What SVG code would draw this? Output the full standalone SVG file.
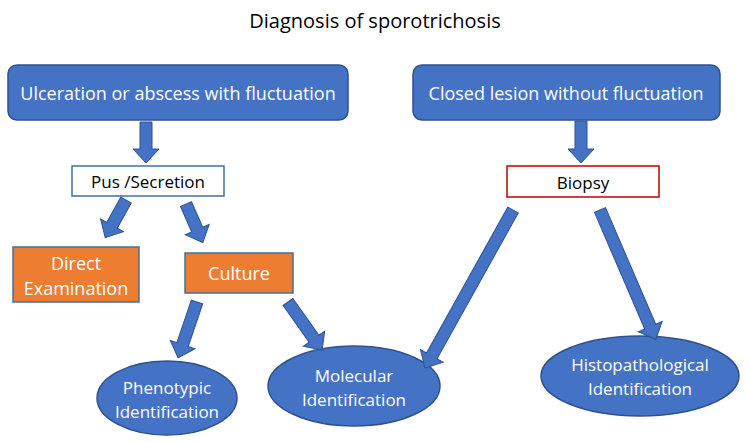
<svg xmlns="http://www.w3.org/2000/svg" width="749" height="443" viewBox="0 0 749 443">
<style>
text{font-family:"Open Sans","Liberation Sans",sans-serif;text-anchor:middle;dominant-baseline:central}
.b{fill:#4472C4;stroke:#2F528F;stroke-width:1.5}
.o{fill:#ED7D31;stroke:#41719C;stroke-width:1.5}
.w{fill:#fff}
.a{fill:#4472C4;stroke:#2F528F;stroke-width:1}
</style>
<rect width="749" height="443" fill="#fff"/>
<text x="375" y="20" font-size="20" fill="#000">Diagnosis of sporotrichosis</text>
<g id="n1"><rect class="b" x="8" y="65" width="340" height="55" rx="9"/><text class="w" x="178" y="93" font-size="18">Ulceration or abscess with fluctuation</text></g>
<g id="n2"><rect class="b" x="413" y="65" width="307" height="55" rx="9"/><text class="w" x="566" y="93" font-size="18">Closed lesion without fluctuation</text></g>
<g id="n3"><rect x="72" y="166" width="152" height="30" fill="#fff" stroke="#41719C" stroke-width="1.5"/><text x="148" y="181" font-size="17">Pus /Secretion</text></g>
<g id="n4"><rect x="507" y="166" width="152" height="31" fill="#fff" stroke="#C00000" stroke-width="1.5"/><text x="583" y="182" font-size="17">Biopsy</text></g>
<g id="n5"><rect class="o" x="13" y="247" width="126" height="55"/><text class="w" x="76" y="263" font-size="18">Direct</text><text class="w" x="76" y="288" font-size="18">Examination</text></g>
<g id="n6"><rect class="o" x="185" y="253" width="108" height="40"/><text class="w" x="239" y="273" font-size="18">Culture</text></g>
<g id="n7"><ellipse class="b" cx="167" cy="398" rx="70" ry="37"/><text class="w" x="167" y="387" font-size="17">Phenotypic</text><text class="w" x="167" y="411" font-size="17">Identification</text></g>
<g id="n8"><ellipse class="b" cx="354" cy="386" rx="86" ry="40"/><text class="w" x="354" y="375" font-size="17">Molecular</text><text class="w" x="354" y="399" font-size="17">Identification</text></g>
<g id="n9"><ellipse class="b" cx="640" cy="376" rx="99" ry="40"/><text class="w" x="640" y="364" font-size="17">Histopathological</text><text class="w" x="640" y="388" font-size="17">Identification</text></g>
<g id="connectors">
<path class="a" transform="translate(146,122) rotate(90)" d="M0,-6 L27,-6 L27,-13 L41,0 L27,13 L27,6 L0,6 Z"/>
<path class="a" transform="translate(581,121) rotate(90)" d="M0,-6 L28,-6 L28,-13 L42,0 L28,13 L28,6 L0,6 Z"/>
<path class="a" transform="translate(126,200) rotate(118.9)" d="M0,-6 L29,-6 L29,-13 L43,0 L29,13 L29,6 L0,6 Z"/>
<path class="a" transform="translate(186,204) rotate(66.4)" d="M0,-6 L28,-6 L28,-13 L42,0 L28,13 L28,6 L0,6 Z"/>
<path class="a" transform="translate(197,302) rotate(108.7)" d="M0,-6 L45,-6 L45,-13 L59,0 L45,13 L45,6 L0,6 Z"/>
<path class="a" transform="translate(288,302) rotate(54.7)" d="M0,-6 L45,-6 L45,-13 L59,0 L45,13 L45,6 L0,6 Z"/>
<path class="a" transform="translate(513,210) rotate(119.1)" d="M0,-6 L167,-6 L167,-13 L181,0 L167,13 L167,6 L0,6 Z"/>
<path class="a" transform="translate(600,210) rotate(66.7)" d="M0,-6 L127,-6 L127,-13 L141,0 L127,13 L127,6 L0,6 Z"/>
</g>
</svg>
